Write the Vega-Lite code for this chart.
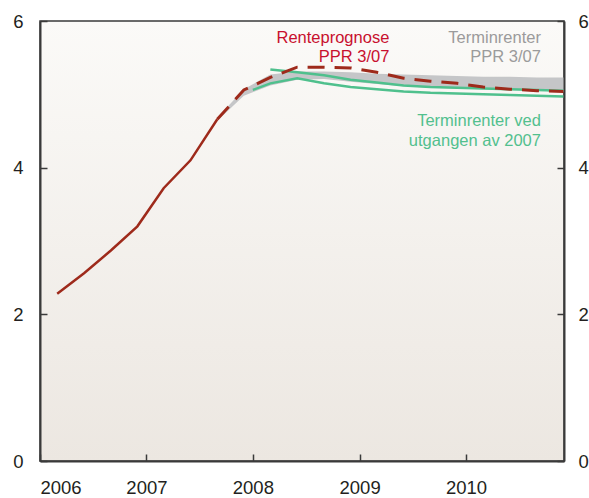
{
  "$schema": "https://vega.github.io/schema/vega-lite/v6.json",
  "width": 524,
  "height": 440,
  "autosize": {"type": "none"},
  "padding": {"left": 40, "top": 21, "right": 25, "bottom": 37},
  "background": "#ffffff",
  "config": {
    "font": "Liberation Sans",
    "view": {
      "stroke": "#3a3a3a",
      "strokeWidth": 1.5,
      "fill": {"gradient": "linear", "x1": 0, "y1": 0, "x2": 0, "y2": 1, "stops": [{"offset": 0, "color": "#fbfaf8"}, {"offset": 1, "color": "#ece7e1"}]}
    },
    "axis": {
      "grid": false,
      "title": null,
      "domainColor": "#3a3a3a",
      "domainWidth": 2,
      "tickColor": "#3a3a3a",
      "tickWidth": 1.5,
      "tickSize": -7,
      "labelFontSize": 18.5,
      "labelColor": "#231f20",
      "labelFont": "Liberation Sans",
      "zindex": 1
    }
  },
  "datasets": {
    "hist": [
      {"date": "2006-03-01", "rate": 2.28},
      {"date": "2006-06-01", "rate": 2.56},
      {"date": "2006-09-01", "rate": 2.87},
      {"date": "2006-12-01", "rate": 3.2},
      {"date": "2007-03-01", "rate": 3.72},
      {"date": "2007-06-01", "rate": 4.1},
      {"date": "2007-09-01", "rate": 4.66}
    ],
    "forecast": [
      {"date": "2007-09-01", "rate": 4.66},
      {"date": "2007-12-01", "rate": 5.06},
      {"date": "2008-03-01", "rate": 5.23},
      {"date": "2008-06-01", "rate": 5.37},
      {"date": "2008-09-01", "rate": 5.37},
      {"date": "2008-12-01", "rate": 5.36},
      {"date": "2009-03-01", "rate": 5.3},
      {"date": "2009-06-01", "rate": 5.22},
      {"date": "2009-09-01", "rate": 5.18},
      {"date": "2009-12-01", "rate": 5.15},
      {"date": "2010-03-01", "rate": 5.1},
      {"date": "2010-06-01", "rate": 5.07},
      {"date": "2010-09-01", "rate": 5.05},
      {"date": "2010-12-01", "rate": 5.04}
    ],
    "band": [
      {"date": "2007-09-01", "low": 4.64, "high": 4.68},
      {"date": "2007-12-01", "low": 4.98, "high": 5.07},
      {"date": "2008-03-01", "low": 5.12, "high": 5.27},
      {"date": "2008-06-01", "low": 5.2, "high": 5.31},
      {"date": "2008-09-01", "low": 5.21, "high": 5.31},
      {"date": "2008-12-01", "low": 5.17, "high": 5.3},
      {"date": "2009-03-01", "low": 5.14, "high": 5.28},
      {"date": "2009-06-01", "low": 5.11, "high": 5.27},
      {"date": "2009-09-01", "low": 5.09, "high": 5.26},
      {"date": "2009-12-01", "low": 5.08, "high": 5.25},
      {"date": "2010-03-01", "low": 5.07, "high": 5.24},
      {"date": "2010-06-01", "low": 5.06, "high": 5.24},
      {"date": "2010-09-01", "low": 5.05, "high": 5.23},
      {"date": "2010-12-01", "low": 5.04, "high": 5.23}
    ],
    "green": [
      {"series": "a", "date": "2008-01-01", "rate": 5.06},
      {"series": "a", "date": "2008-03-01", "rate": 5.15},
      {"series": "a", "date": "2008-06-01", "rate": 5.22},
      {"series": "a", "date": "2008-09-01", "rate": 5.15},
      {"series": "a", "date": "2008-12-01", "rate": 5.1},
      {"series": "a", "date": "2009-03-01", "rate": 5.07},
      {"series": "a", "date": "2009-06-01", "rate": 5.04},
      {"series": "a", "date": "2009-09-01", "rate": 5.02},
      {"series": "a", "date": "2009-12-01", "rate": 5.01},
      {"series": "a", "date": "2010-03-01", "rate": 5.0},
      {"series": "a", "date": "2010-06-01", "rate": 4.99},
      {"series": "a", "date": "2010-09-01", "rate": 4.98},
      {"series": "a", "date": "2010-12-01", "rate": 4.97},
      {"series": "b", "date": "2008-03-01", "rate": 5.34},
      {"series": "b", "date": "2008-06-01", "rate": 5.3},
      {"series": "b", "date": "2008-09-01", "rate": 5.26},
      {"series": "b", "date": "2008-12-01", "rate": 5.2},
      {"series": "b", "date": "2009-03-01", "rate": 5.16},
      {"series": "b", "date": "2009-06-01", "rate": 5.12},
      {"series": "b", "date": "2009-09-01", "rate": 5.1},
      {"series": "b", "date": "2009-12-01", "rate": 5.09},
      {"series": "b", "date": "2010-03-01", "rate": 5.08},
      {"series": "b", "date": "2010-06-01", "rate": 5.07},
      {"series": "b", "date": "2010-09-01", "rate": 5.06},
      {"series": "b", "date": "2010-12-01", "rate": 5.05}
    ],
    "labels": [
      {"group": "red", "date": "2009-04-13", "rate": 5.706, "text": "Renteprognose"},
      {"group": "red", "date": "2009-04-13", "rate": 5.437, "text": "PPR 3/07"},
      {"group": "grey", "date": "2010-09-15", "rate": 5.706, "text": "Terminrenter"},
      {"group": "grey", "date": "2010-09-15", "rate": 5.437, "text": "PPR 3/07"},
      {"group": "green", "date": "2010-09-15", "rate": 4.568, "text": "Terminrenter ved"},
      {"group": "green", "date": "2010-09-15", "rate": 4.296, "text": "utgangen av 2007"}
    ]
  },
  "encoding": {
    "x": {
      "field": "date",
      "type": "temporal",
      "scale": {
        "type": "utc",
        "domain": [
          {"year": 2006, "month": 1, "date": 1, "utc": true},
          {"year": 2010, "month": 12, "date": 3, "utc": true}
        ]
      },
      "axis": {
        "format": "%Y",
        "labelPadding": 24,
        "values": [
          {"year": 2006, "month": 1, "date": 1, "utc": true},
          {"year": 2007, "month": 1, "date": 1, "utc": true},
          {"year": 2008, "month": 1, "date": 1, "utc": true},
          {"year": 2009, "month": 1, "date": 1, "utc": true},
          {"year": 2010, "month": 1, "date": 1, "utc": true}
        ]
      }
    }
  },
  "layer": [
    {
      "data": {"name": "band"},
      "mark": {"type": "area", "color": "#c5c6c8", "interpolate": "linear"},
      "encoding": {
        "y": {
          "field": "low",
          "type": "quantitative",
          "scale": {"domain": [0, 6], "nice": false, "zero": false},
          "axis": {"orient": "left", "values": [0, 2, 4, 6], "labelPadding": 24}
        },
        "y2": {"field": "high"}
      }
    },
    {
      "data": {"name": "green"},
      "mark": {"type": "line", "color": "#4fc08d", "strokeWidth": 2.5},
      "encoding": {
        "y": {
          "field": "rate",
          "type": "quantitative",
          "scale": {"domain": [0, 6], "nice": false, "zero": false},
          "axis": {"orient": "right", "values": [0, 2, 4, 6], "labelPadding": 21}
        },
        "detail": {"field": "series"}
      }
    },
    {
      "data": {"name": "hist"},
      "mark": {"type": "line", "color": "#9e2a1b", "strokeWidth": 2.5},
      "encoding": {
        "y": {"field": "rate", "type": "quantitative", "axis": null}
      }
    },
    {
      "data": {"name": "forecast"},
      "mark": {"type": "line", "color": "#9e2a1b", "strokeWidth": 3, "strokeDash": [17, 10]},
      "encoding": {
        "y": {"field": "rate", "type": "quantitative", "axis": null}
      }
    },
    {
      "data": {"name": "labels"},
      "mark": {"type": "text", "align": "right", "baseline": "alphabetic", "fontSize": 16.5, "font": "Liberation Sans"},
      "encoding": {
        "y": {"field": "rate", "type": "quantitative", "axis": null},
        "text": {"field": "text"},
        "color": {
          "field": "group",
          "type": "nominal",
          "scale": {"domain": ["red", "grey", "green"], "range": ["#c8102e", "#9b9b9b", "#52c08e"]},
          "legend": null
        }
      }
    }
  ],
  "resolve": {"axis": {"y": "independent"}, "scale": {"y": "shared"}}
}
